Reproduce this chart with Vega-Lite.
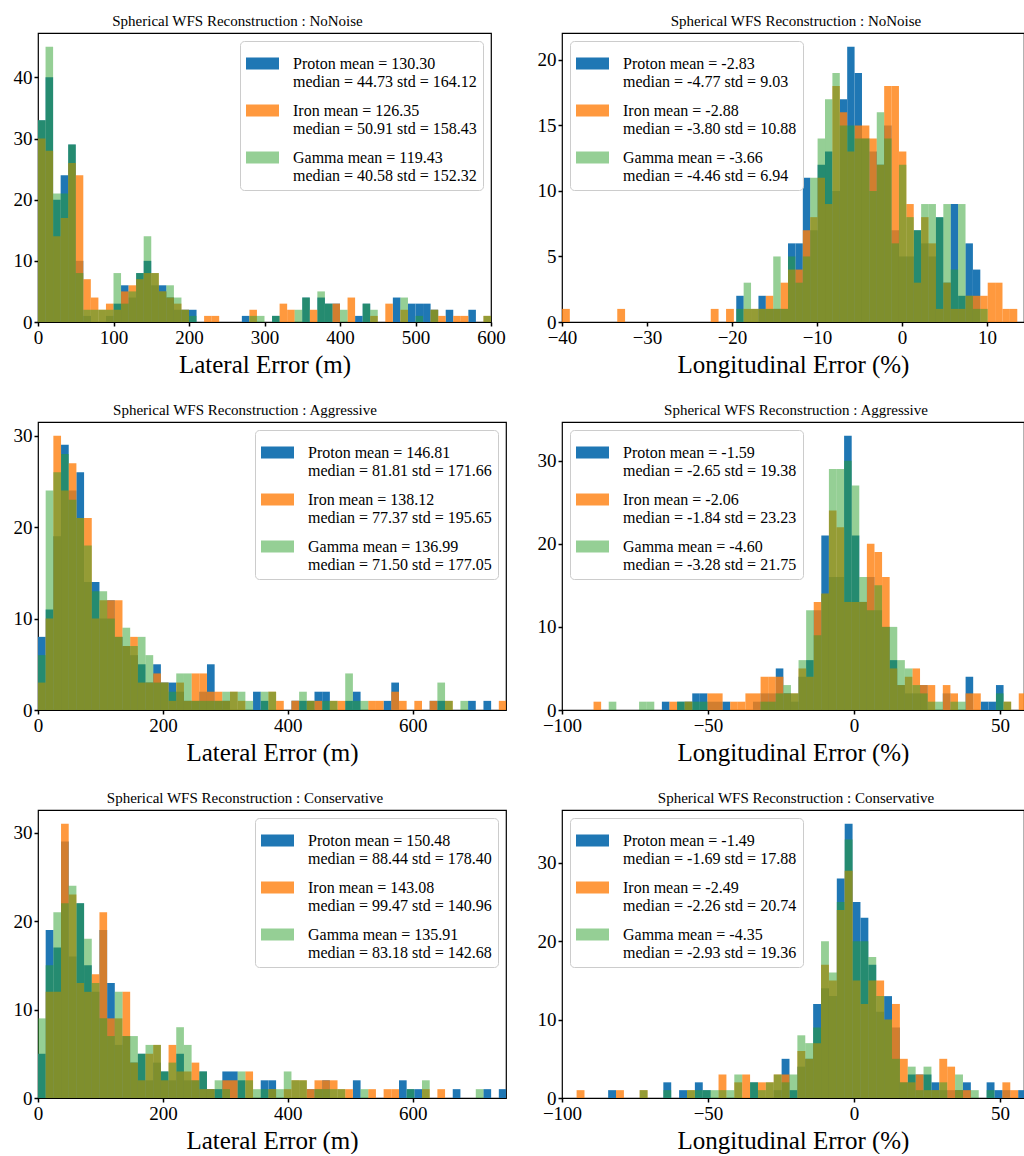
{
"$schema": "https://vega.github.io/schema/vega-lite/v6.json",
"background": "white",
"padding": {"left": 12, "top": 13, "right": 0, "bottom": 0},
"bounds": "flush",
"columns": 2,
"spacing": {"row": 100, "column": 56},
"resolve": {"legend": {"color": "independent"}, "scale": {"color": "independent"}},
"config": {
 "font": "Liberation Serif",
 "view": {"stroke": "#000", "strokeWidth": 1.2},
 "axis": {"domain": false, "grid": false, "tickColor": "#000", "tickSize": 4, "tickWidth": 1.5, "labelFont": "Liberation Serif", "labelFontSize": 19, "labelColor": "#000", "labelFlush": false, "labelOverlap": false, "labelPadding": 2, "titleFont": "Liberation Serif", "titleFontSize": 25, "titleFontWeight": "normal", "titleColor": "#000", "titlePadding": 5},
 "title": {"font": "Liberation Serif", "fontSize": 15, "fontWeight": "normal", "color": "#000", "offset": 4},
 "text": {"font": "Liberation Serif"},
 "legend": {"labelFont": "Liberation Serif", "labelFontSize": 16, "labelColor": "#000", "labelLimit": 500, "symbolType": "M-1,-0.36H1V0.36H-1Z", "symbolSize": 1089, "symbolStrokeWidth": 0, "labelOffset": 14, "padding": 6, "rowPadding": 4, "fillColor": "rgba(255,255,255,0.8)", "strokeColor": "#cccccc", "cornerRadius": 4, "offset": 8}
},
"datasets": {
"d1": [
{"s":"P","a":0,"b":10,"n":33},{"s":"P","a":10,"b":20,"n":40},{"s":"P","a":20,"b":30,"n":20},{"s":"P","a":30,"b":40,"n":24},{"s":"P","a":40,"b":50,"n":29},{"s":"P","a":50,"b":60,"n":10},{"s":"P","a":60,"b":70,"n":1},{"s":"P","a":90,"b":100,"n":1},{"s":"P","a":100,"b":110,"n":3},{"s":"P","a":110,"b":120,"n":6},{"s":"P","a":120,"b":130,"n":4},{"s":"P","a":130,"b":140,"n":8},{"s":"P","a":140,"b":150,"n":10},{"s":"P","a":150,"b":160,"n":6},{"s":"P","a":160,"b":170,"n":6},{"s":"P","a":170,"b":180,"n":4},{"s":"P","a":180,"b":190,"n":2},{"s":"P","a":190,"b":200,"n":2},{"s":"P","a":200,"b":210,"n":2},{"s":"P","a":270,"b":280,"n":1},{"s":"P","a":310,"b":320,"n":1},{"s":"P","a":350,"b":360,"n":4},{"s":"P","a":370,"b":380,"n":4},{"s":"P","a":380,"b":390,"n":3},{"s":"P","a":390,"b":400,"n":3},{"s":"P","a":420,"b":430,"n":1},{"s":"P","a":430,"b":440,"n":3},{"s":"P","a":470,"b":480,"n":4},{"s":"P","a":490,"b":500,"n":3},{"s":"P","a":500,"b":510,"n":3},{"s":"P","a":510,"b":520,"n":3},{"s":"P","a":520,"b":530,"n":2},{"s":"P","a":540,"b":550,"n":2},{"s":"P","a":570,"b":580,"n":2},
{"s":"I","a":0,"b":10,"n":30},{"s":"I","a":10,"b":20,"n":28},{"s":"I","a":20,"b":30,"n":14},{"s":"I","a":30,"b":40,"n":17},{"s":"I","a":40,"b":50,"n":26},{"s":"I","a":50,"b":60,"n":24},{"s":"I","a":60,"b":70,"n":7},{"s":"I","a":70,"b":80,"n":4},{"s":"I","a":80,"b":90,"n":2},{"s":"I","a":90,"b":100,"n":3},{"s":"I","a":100,"b":110,"n":2},{"s":"I","a":110,"b":120,"n":5},{"s":"I","a":120,"b":130,"n":6},{"s":"I","a":130,"b":140,"n":7},{"s":"I","a":140,"b":150,"n":8},{"s":"I","a":150,"b":160,"n":8},{"s":"I","a":160,"b":170,"n":5},{"s":"I","a":170,"b":180,"n":4},{"s":"I","a":180,"b":190,"n":3},{"s":"I","a":190,"b":200,"n":2},{"s":"I","a":220,"b":230,"n":1},{"s":"I","a":230,"b":240,"n":1},{"s":"I","a":280,"b":290,"n":2},{"s":"I","a":320,"b":330,"n":3},{"s":"I","a":330,"b":340,"n":2},{"s":"I","a":360,"b":370,"n":2},{"s":"I","a":390,"b":400,"n":3},{"s":"I","a":410,"b":420,"n":4},{"s":"I","a":440,"b":450,"n":1},{"s":"I","a":460,"b":470,"n":3},{"s":"I","a":480,"b":490,"n":2},{"s":"I","a":520,"b":530,"n":2},{"s":"I","a":530,"b":540,"n":1},{"s":"I","a":550,"b":560,"n":1},{"s":"I","a":560,"b":570,"n":1},{"s":"I","a":590,"b":600,"n":1},
{"s":"G","a":0,"b":10,"n":33},{"s":"G","a":10,"b":20,"n":45},{"s":"G","a":20,"b":30,"n":21},{"s":"G","a":30,"b":40,"n":21},{"s":"G","a":40,"b":50,"n":29},{"s":"G","a":50,"b":60,"n":8},{"s":"G","a":60,"b":70,"n":2},{"s":"G","a":70,"b":80,"n":2},{"s":"G","a":80,"b":90,"n":2},{"s":"G","a":90,"b":100,"n":2},{"s":"G","a":100,"b":110,"n":8},{"s":"G","a":110,"b":120,"n":3},{"s":"G","a":120,"b":130,"n":5},{"s":"G","a":130,"b":140,"n":8},{"s":"G","a":140,"b":150,"n":14},{"s":"G","a":150,"b":160,"n":8},{"s":"G","a":160,"b":170,"n":5},{"s":"G","a":170,"b":180,"n":6},{"s":"G","a":180,"b":190,"n":4},{"s":"G","a":190,"b":200,"n":2},{"s":"G","a":200,"b":210,"n":1},{"s":"G","a":280,"b":290,"n":1},{"s":"G","a":290,"b":300,"n":1},{"s":"G","a":310,"b":320,"n":1},{"s":"G","a":340,"b":350,"n":2},{"s":"G","a":350,"b":360,"n":4},{"s":"G","a":370,"b":380,"n":5},{"s":"G","a":380,"b":390,"n":3},{"s":"G","a":400,"b":410,"n":2},{"s":"G","a":430,"b":440,"n":3},{"s":"G","a":440,"b":450,"n":2},{"s":"G","a":480,"b":490,"n":4},{"s":"G","a":500,"b":510,"n":1},{"s":"G","a":520,"b":530,"n":2},{"s":"G","a":590,"b":600,"n":1}
],
"d2": [
{"s":"P","a":-19.5,"b":-18.63,"n":2},{"s":"P","a":-16.89,"b":-16.02,"n":2},{"s":"P","a":-16.02,"b":-15.15,"n":1},{"s":"P","a":-15.15,"b":-14.28,"n":1},{"s":"P","a":-14.28,"b":-13.41,"n":1},{"s":"P","a":-13.41,"b":-12.54,"n":6},{"s":"P","a":-12.54,"b":-11.67,"n":6},{"s":"P","a":-11.67,"b":-10.8,"n":11},{"s":"P","a":-10.8,"b":-9.93,"n":7},{"s":"P","a":-9.93,"b":-9.06,"n":12},{"s":"P","a":-9.06,"b":-8.19,"n":13},{"s":"P","a":-8.19,"b":-7.32,"n":10},{"s":"P","a":-7.32,"b":-6.45,"n":17},{"s":"P","a":-6.45,"b":-5.58,"n":21},{"s":"P","a":-5.58,"b":-4.71,"n":19},{"s":"P","a":-4.71,"b":-3.84,"n":14},{"s":"P","a":-3.84,"b":-2.97,"n":13},{"s":"P","a":-2.97,"b":-2.1,"n":12},{"s":"P","a":-2.1,"b":-1.23,"n":15},{"s":"P","a":-1.23,"b":-0.36,"n":7},{"s":"P","a":-0.36,"b":0.51,"n":5},{"s":"P","a":0.51,"b":1.38,"n":5},{"s":"P","a":1.38,"b":2.25,"n":7},{"s":"P","a":2.25,"b":3.12,"n":6},{"s":"P","a":3.12,"b":3.99,"n":5},{"s":"P","a":3.99,"b":4.86,"n":8},{"s":"P","a":4.86,"b":5.73,"n":3},{"s":"P","a":5.73,"b":6.6,"n":9},{"s":"P","a":6.6,"b":7.47,"n":2},{"s":"P","a":7.47,"b":8.34,"n":6},{"s":"P","a":8.34,"b":9.21,"n":4},
{"s":"I","a":-40,"b":-39.08,"n":1},{"s":"I","a":-33.5,"b":-32.58,"n":1},{"s":"I","a":-22.5,"b":-21.58,"n":1},{"s":"I","a":-20.7,"b":-19.78,"n":1},{"s":"I","a":-18.63,"b":-17.76,"n":1},{"s":"I","a":-17.76,"b":-16.89,"n":1},{"s":"I","a":-16.89,"b":-16.02,"n":1},{"s":"I","a":-16.02,"b":-15.15,"n":2},{"s":"I","a":-15.15,"b":-14.28,"n":1},{"s":"I","a":-14.28,"b":-13.41,"n":3},{"s":"I","a":-13.41,"b":-12.54,"n":4},{"s":"I","a":-12.54,"b":-11.67,"n":4},{"s":"I","a":-11.67,"b":-10.8,"n":7},{"s":"I","a":-10.8,"b":-9.93,"n":8},{"s":"I","a":-9.93,"b":-9.06,"n":11},{"s":"I","a":-9.06,"b":-8.19,"n":9},{"s":"I","a":-8.19,"b":-7.32,"n":18},{"s":"I","a":-7.32,"b":-6.45,"n":16},{"s":"I","a":-6.45,"b":-5.58,"n":13},{"s":"I","a":-5.58,"b":-4.71,"n":15},{"s":"I","a":-4.71,"b":-3.84,"n":15},{"s":"I","a":-3.84,"b":-2.97,"n":14},{"s":"I","a":-2.97,"b":-2.1,"n":12},{"s":"I","a":-2.1,"b":-1.23,"n":18},{"s":"I","a":-1.23,"b":-0.36,"n":18},{"s":"I","a":-0.36,"b":0.51,"n":13},{"s":"I","a":0.51,"b":1.38,"n":9},{"s":"I","a":1.38,"b":2.25,"n":3},{"s":"I","a":2.25,"b":3.12,"n":8},{"s":"I","a":3.12,"b":3.99,"n":6},{"s":"I","a":3.99,"b":4.86,"n":1},{"s":"I","a":4.86,"b":5.73,"n":3},{"s":"I","a":5.73,"b":6.6,"n":1},{"s":"I","a":6.6,"b":7.47,"n":1},{"s":"I","a":7.47,"b":8.34,"n":2},{"s":"I","a":8.34,"b":9.21,"n":2},{"s":"I","a":9.21,"b":10.08,"n":2},{"s":"I","a":10.08,"b":10.95,"n":3},{"s":"I","a":10.95,"b":11.82,"n":3},{"s":"I","a":11.82,"b":12.69,"n":1},{"s":"I","a":12.69,"b":13.56,"n":1},
{"s":"G","a":-19.5,"b":-18.63,"n":1},{"s":"G","a":-18.63,"b":-17.76,"n":3},{"s":"G","a":-17.76,"b":-16.89,"n":1},{"s":"G","a":-16.89,"b":-16.02,"n":1},{"s":"G","a":-16.02,"b":-15.15,"n":1},{"s":"G","a":-15.15,"b":-14.28,"n":5},{"s":"G","a":-14.28,"b":-13.41,"n":1},{"s":"G","a":-13.41,"b":-12.54,"n":5},{"s":"G","a":-12.54,"b":-11.67,"n":3},{"s":"G","a":-11.67,"b":-10.8,"n":5},{"s":"G","a":-10.8,"b":-9.93,"n":11},{"s":"G","a":-9.93,"b":-9.06,"n":14},{"s":"G","a":-9.06,"b":-8.19,"n":17},{"s":"G","a":-8.19,"b":-7.32,"n":19},{"s":"G","a":-7.32,"b":-6.45,"n":15},{"s":"G","a":-6.45,"b":-5.58,"n":15},{"s":"G","a":-5.58,"b":-4.71,"n":14},{"s":"G","a":-4.71,"b":-3.84,"n":14},{"s":"G","a":-3.84,"b":-2.97,"n":10},{"s":"G","a":-2.97,"b":-2.1,"n":16},{"s":"G","a":-2.1,"b":-1.23,"n":14},{"s":"G","a":-1.23,"b":-0.36,"n":6},{"s":"G","a":-0.36,"b":0.51,"n":12},{"s":"G","a":0.51,"b":1.38,"n":8},{"s":"G","a":1.38,"b":2.25,"n":7},{"s":"G","a":2.25,"b":3.12,"n":9},{"s":"G","a":3.12,"b":3.99,"n":9},{"s":"G","a":3.99,"b":4.86,"n":8},{"s":"G","a":4.86,"b":5.73,"n":9},{"s":"G","a":5.73,"b":6.6,"n":4},{"s":"G","a":6.6,"b":7.47,"n":9},{"s":"G","a":7.47,"b":8.34,"n":2},{"s":"G","a":8.34,"b":9.21,"n":1},{"s":"G","a":9.21,"b":10.08,"n":1}
],
"d3": [
{"s":"P","a":0,"b":12.3,"n":8},{"s":"P","a":12.3,"b":24.6,"n":11},{"s":"P","a":24.6,"b":36.9,"n":19},{"s":"P","a":36.9,"b":49.2,"n":29},{"s":"P","a":49.2,"b":61.5,"n":24},{"s":"P","a":61.5,"b":73.8,"n":26},{"s":"P","a":73.8,"b":86.1,"n":14},{"s":"P","a":86.1,"b":98.4,"n":14},{"s":"P","a":98.4,"b":110.7,"n":10},{"s":"P","a":110.7,"b":123,"n":12},{"s":"P","a":123,"b":135.3,"n":8},{"s":"P","a":135.3,"b":147.6,"n":7},{"s":"P","a":147.6,"b":159.9,"n":6},{"s":"P","a":159.9,"b":172.2,"n":5},{"s":"P","a":172.2,"b":184.5,"n":3},{"s":"P","a":184.5,"b":196.8,"n":5},{"s":"P","a":196.8,"b":209.1,"n":3},{"s":"P","a":209.1,"b":221.4,"n":3},{"s":"P","a":221.4,"b":233.7,"n":2},{"s":"P","a":233.7,"b":246,"n":1},{"s":"P","a":246,"b":258.3,"n":1},{"s":"P","a":258.3,"b":270.6,"n":2},{"s":"P","a":270.6,"b":282.9,"n":5},{"s":"P","a":282.9,"b":295.2,"n":1},{"s":"P","a":295.2,"b":307.5,"n":1},{"s":"P","a":344.4,"b":356.7,"n":2},{"s":"P","a":356.7,"b":369,"n":1},{"s":"P","a":405.9,"b":418.2,"n":1},{"s":"P","a":418.2,"b":430.5,"n":1},{"s":"P","a":430.5,"b":442.8,"n":1},{"s":"P","a":442.8,"b":455.1,"n":2},{"s":"P","a":455.1,"b":467.4,"n":2},{"s":"P","a":492,"b":504.3,"n":1},{"s":"P","a":504.3,"b":516.6,"n":2},{"s":"P","a":553.5,"b":565.8,"n":1},{"s":"P","a":565.8,"b":578.1,"n":3},{"s":"P","a":627.3,"b":639.6,"n":1},{"s":"P","a":639.6,"b":651.9,"n":1},{"s":"P","a":688.8,"b":701.1,"n":1},{"s":"P","a":713.4,"b":725.7,"n":1},
{"s":"I","a":0,"b":12.3,"n":3},{"s":"I","a":12.3,"b":24.6,"n":10},{"s":"I","a":24.6,"b":36.9,"n":30},{"s":"I","a":36.9,"b":49.2,"n":24},{"s":"I","a":49.2,"b":61.5,"n":27},{"s":"I","a":61.5,"b":73.8,"n":21},{"s":"I","a":73.8,"b":86.1,"n":21},{"s":"I","a":86.1,"b":98.4,"n":10},{"s":"I","a":98.4,"b":110.7,"n":12},{"s":"I","a":110.7,"b":123,"n":12},{"s":"I","a":123,"b":135.3,"n":12},{"s":"I","a":135.3,"b":147.6,"n":7},{"s":"I","a":147.6,"b":159.9,"n":8},{"s":"I","a":159.9,"b":172.2,"n":3},{"s":"I","a":172.2,"b":184.5,"n":3},{"s":"I","a":184.5,"b":196.8,"n":4},{"s":"I","a":196.8,"b":209.1,"n":3},{"s":"I","a":209.1,"b":221.4,"n":1},{"s":"I","a":221.4,"b":233.7,"n":3},{"s":"I","a":233.7,"b":246,"n":1},{"s":"I","a":246,"b":258.3,"n":4},{"s":"I","a":258.3,"b":270.6,"n":4},{"s":"I","a":270.6,"b":282.9,"n":2},{"s":"I","a":282.9,"b":295.2,"n":2},{"s":"I","a":295.2,"b":307.5,"n":1},{"s":"I","a":307.5,"b":319.8,"n":2},{"s":"I","a":319.8,"b":332.1,"n":1},{"s":"I","a":369,"b":381.3,"n":2},{"s":"I","a":381.3,"b":393.6,"n":1},{"s":"I","a":405.9,"b":418.2,"n":1},{"s":"I","a":430.5,"b":442.8,"n":1},{"s":"I","a":442.8,"b":455.1,"n":1},{"s":"I","a":467.4,"b":479.7,"n":1},{"s":"I","a":479.7,"b":492,"n":1},{"s":"I","a":528.9,"b":541.2,"n":1},{"s":"I","a":541.2,"b":553.5,"n":1},{"s":"I","a":565.8,"b":578.1,"n":2},{"s":"I","a":578.1,"b":590.4,"n":1},{"s":"I","a":602.7,"b":615,"n":1},{"s":"I","a":627.3,"b":639.6,"n":1},{"s":"I","a":651.9,"b":664.2,"n":1},{"s":"I","a":738,"b":750.3,"n":1},
{"s":"G","a":0,"b":12.3,"n":6},{"s":"G","a":12.3,"b":24.6,"n":24},{"s":"G","a":24.6,"b":36.9,"n":26},{"s":"G","a":36.9,"b":49.2,"n":28},{"s":"G","a":49.2,"b":61.5,"n":23},{"s":"G","a":61.5,"b":73.8,"n":21},{"s":"G","a":73.8,"b":86.1,"n":18},{"s":"G","a":86.1,"b":98.4,"n":13},{"s":"G","a":98.4,"b":110.7,"n":13},{"s":"G","a":110.7,"b":123,"n":10},{"s":"G","a":123,"b":135.3,"n":8},{"s":"G","a":135.3,"b":147.6,"n":9},{"s":"G","a":147.6,"b":159.9,"n":7},{"s":"G","a":159.9,"b":172.2,"n":8},{"s":"G","a":172.2,"b":184.5,"n":6},{"s":"G","a":184.5,"b":196.8,"n":3},{"s":"G","a":196.8,"b":209.1,"n":3},{"s":"G","a":209.1,"b":221.4,"n":2},{"s":"G","a":221.4,"b":233.7,"n":4},{"s":"G","a":233.7,"b":246,"n":4},{"s":"G","a":246,"b":258.3,"n":1},{"s":"G","a":258.3,"b":270.6,"n":1},{"s":"G","a":270.6,"b":282.9,"n":1},{"s":"G","a":282.9,"b":295.2,"n":1},{"s":"G","a":295.2,"b":307.5,"n":2},{"s":"G","a":307.5,"b":319.8,"n":2},{"s":"G","a":319.8,"b":332.1,"n":2},{"s":"G","a":332.1,"b":344.4,"n":1},{"s":"G","a":356.7,"b":369,"n":2},{"s":"G","a":369,"b":381.3,"n":2},{"s":"G","a":418.2,"b":430.5,"n":2},{"s":"G","a":430.5,"b":442.8,"n":1},{"s":"G","a":455.1,"b":467.4,"n":1},{"s":"G","a":467.4,"b":479.7,"n":1},{"s":"G","a":492,"b":504.3,"n":4},{"s":"G","a":504.3,"b":516.6,"n":1},{"s":"G","a":516.6,"b":528.9,"n":1},{"s":"G","a":639.6,"b":651.9,"n":3},{"s":"G","a":651.9,"b":664.2,"n":1},{"s":"G","a":676.5,"b":688.8,"n":1}
],
"d4": [
{"s":"P","a":-65.8,"b":-63.2,"n":1},{"s":"P","a":-60.6,"b":-58,"n":1},{"s":"P","a":-58,"b":-55.4,"n":1},{"s":"P","a":-55.4,"b":-52.8,"n":2},{"s":"P","a":-52.8,"b":-50.2,"n":2},{"s":"P","a":-50.2,"b":-47.6,"n":1},{"s":"P","a":-47.6,"b":-45,"n":1},{"s":"P","a":-45,"b":-42.4,"n":1},{"s":"P","a":-34.6,"b":-32,"n":1},{"s":"P","a":-32,"b":-29.4,"n":2},{"s":"P","a":-29.4,"b":-26.8,"n":2},{"s":"P","a":-26.8,"b":-24.2,"n":5},{"s":"P","a":-24.2,"b":-21.6,"n":2},{"s":"P","a":-21.6,"b":-19,"n":1},{"s":"P","a":-19,"b":-16.4,"n":4},{"s":"P","a":-16.4,"b":-13.8,"n":6},{"s":"P","a":-13.8,"b":-11.2,"n":12},{"s":"P","a":-11.2,"b":-8.6,"n":21},{"s":"P","a":-8.6,"b":-6,"n":16},{"s":"P","a":-6,"b":-3.4,"n":16},{"s":"P","a":-3.4,"b":-0.8,"n":33},{"s":"P","a":-0.8,"b":1.8,"n":21},{"s":"P","a":1.8,"b":4.4,"n":13},{"s":"P","a":4.4,"b":7,"n":16},{"s":"P","a":7,"b":9.6,"n":12},{"s":"P","a":9.6,"b":12.2,"n":10},{"s":"P","a":12.2,"b":14.8,"n":6},{"s":"P","a":14.8,"b":17.4,"n":3},{"s":"P","a":17.4,"b":20,"n":2},{"s":"P","a":20,"b":22.6,"n":2},{"s":"P","a":22.6,"b":25.2,"n":3},{"s":"P","a":30.4,"b":33,"n":2},{"s":"P","a":38.2,"b":40.8,"n":4},{"s":"P","a":43.4,"b":46,"n":1},{"s":"P","a":46,"b":48.6,"n":1},{"s":"P","a":48.6,"b":51.2,"n":3},
{"s":"I","a":-89.2,"b":-86.6,"n":1},{"s":"I","a":-63.2,"b":-60.6,"n":1},{"s":"I","a":-58,"b":-55.4,"n":1},{"s":"I","a":-50.2,"b":-47.6,"n":2},{"s":"I","a":-47.6,"b":-45,"n":2},{"s":"I","a":-42.4,"b":-39.8,"n":1},{"s":"I","a":-39.8,"b":-37.2,"n":1},{"s":"I","a":-37.2,"b":-34.6,"n":2},{"s":"I","a":-34.6,"b":-32,"n":2},{"s":"I","a":-32,"b":-29.4,"n":4},{"s":"I","a":-29.4,"b":-26.8,"n":4},{"s":"I","a":-26.8,"b":-24.2,"n":4},{"s":"I","a":-24.2,"b":-21.6,"n":2},{"s":"I","a":-21.6,"b":-19,"n":2},{"s":"I","a":-19,"b":-16.4,"n":5},{"s":"I","a":-16.4,"b":-13.8,"n":4},{"s":"I","a":-13.8,"b":-11.2,"n":13},{"s":"I","a":-11.2,"b":-8.6,"n":14},{"s":"I","a":-8.6,"b":-6,"n":24},{"s":"I","a":-6,"b":-3.4,"n":22},{"s":"I","a":-3.4,"b":-0.8,"n":13},{"s":"I","a":-0.8,"b":1.8,"n":13},{"s":"I","a":1.8,"b":4.4,"n":13},{"s":"I","a":4.4,"b":7,"n":20},{"s":"I","a":7,"b":9.6,"n":19},{"s":"I","a":9.6,"b":12.2,"n":16},{"s":"I","a":12.2,"b":14.8,"n":5},{"s":"I","a":14.8,"b":17.4,"n":3},{"s":"I","a":17.4,"b":20,"n":4},{"s":"I","a":20,"b":22.6,"n":5},{"s":"I","a":22.6,"b":25.2,"n":3},{"s":"I","a":25.2,"b":27.8,"n":3},{"s":"I","a":30.4,"b":33,"n":3},{"s":"I","a":33,"b":35.6,"n":2},{"s":"I","a":38.2,"b":40.8,"n":2},{"s":"I","a":40.8,"b":43.4,"n":2},{"s":"I","a":51.2,"b":53.8,"n":1},{"s":"I","a":56.4,"b":59,"n":2},
{"s":"G","a":-84,"b":-81.4,"n":1},{"s":"G","a":-73.6,"b":-71,"n":1},{"s":"G","a":-71,"b":-68.4,"n":1},{"s":"G","a":-60.6,"b":-58,"n":1},{"s":"G","a":-58,"b":-55.4,"n":1},{"s":"G","a":-55.4,"b":-52.8,"n":1},{"s":"G","a":-52.8,"b":-50.2,"n":1},{"s":"G","a":-32,"b":-29.4,"n":1},{"s":"G","a":-29.4,"b":-26.8,"n":1},{"s":"G","a":-26.8,"b":-24.2,"n":2},{"s":"G","a":-24.2,"b":-21.6,"n":3},{"s":"G","a":-21.6,"b":-19,"n":2},{"s":"G","a":-19,"b":-16.4,"n":6},{"s":"G","a":-16.4,"b":-13.8,"n":12},{"s":"G","a":-13.8,"b":-11.2,"n":9},{"s":"G","a":-11.2,"b":-8.6,"n":14},{"s":"G","a":-8.6,"b":-6,"n":29},{"s":"G","a":-6,"b":-3.4,"n":29},{"s":"G","a":-3.4,"b":-0.8,"n":30},{"s":"G","a":-0.8,"b":1.8,"n":27},{"s":"G","a":1.8,"b":4.4,"n":16},{"s":"G","a":4.4,"b":7,"n":12},{"s":"G","a":7,"b":9.6,"n":15},{"s":"G","a":9.6,"b":12.2,"n":10},{"s":"G","a":12.2,"b":14.8,"n":10},{"s":"G","a":14.8,"b":17.4,"n":6},{"s":"G","a":17.4,"b":20,"n":5},{"s":"G","a":20,"b":22.6,"n":3},{"s":"G","a":22.6,"b":25.2,"n":2},{"s":"G","a":25.2,"b":27.8,"n":1},{"s":"G","a":27.8,"b":30.4,"n":1},{"s":"G","a":33,"b":35.6,"n":1},{"s":"G","a":35.6,"b":38.2,"n":1},{"s":"G","a":48.6,"b":51.2,"n":2},{"s":"G","a":51.2,"b":53.8,"n":1}
],
"d5": [
{"s":"P","a":0,"b":12.3,"n":5},{"s":"P","a":12.3,"b":24.6,"n":19},{"s":"P","a":24.6,"b":36.9,"n":17},{"s":"P","a":36.9,"b":49.2,"n":29},{"s":"P","a":49.2,"b":61.5,"n":16},{"s":"P","a":61.5,"b":73.8,"n":22},{"s":"P","a":73.8,"b":86.1,"n":15},{"s":"P","a":86.1,"b":98.4,"n":12},{"s":"P","a":98.4,"b":110.7,"n":19},{"s":"P","a":110.7,"b":123,"n":13},{"s":"P","a":123,"b":135.3,"n":6},{"s":"P","a":135.3,"b":147.6,"n":7},{"s":"P","a":147.6,"b":159.9,"n":4},{"s":"P","a":159.9,"b":172.2,"n":5},{"s":"P","a":172.2,"b":184.5,"n":2},{"s":"P","a":184.5,"b":196.8,"n":4},{"s":"P","a":196.8,"b":209.1,"n":3},{"s":"P","a":209.1,"b":221.4,"n":2},{"s":"P","a":221.4,"b":233.7,"n":5},{"s":"P","a":233.7,"b":246,"n":2},{"s":"P","a":246,"b":258.3,"n":2},{"s":"P","a":258.3,"b":270.6,"n":3},{"s":"P","a":270.6,"b":282.9,"n":1},{"s":"P","a":282.9,"b":295.2,"n":1},{"s":"P","a":295.2,"b":307.5,"n":3},{"s":"P","a":307.5,"b":319.8,"n":3},{"s":"P","a":319.8,"b":332.1,"n":2},{"s":"P","a":356.7,"b":369,"n":2},{"s":"P","a":369,"b":381.3,"n":2},{"s":"P","a":430.5,"b":442.8,"n":1},{"s":"P","a":442.8,"b":455.1,"n":1},{"s":"P","a":455.1,"b":467.4,"n":2},{"s":"P","a":504.3,"b":516.6,"n":2},{"s":"P","a":578.1,"b":590.4,"n":2},{"s":"P","a":590.4,"b":602.7,"n":1},{"s":"P","a":602.7,"b":615,"n":1},{"s":"P","a":664.2,"b":676.5,"n":1},{"s":"P","a":713.4,"b":725.7,"n":1},{"s":"P","a":738,"b":750.3,"n":1},
{"s":"I","a":12.3,"b":24.6,"n":12},{"s":"I","a":24.6,"b":36.9,"n":12},{"s":"I","a":36.9,"b":49.2,"n":31},{"s":"I","a":49.2,"b":61.5,"n":23},{"s":"I","a":61.5,"b":73.8,"n":13},{"s":"I","a":73.8,"b":86.1,"n":12},{"s":"I","a":86.1,"b":98.4,"n":14},{"s":"I","a":98.4,"b":110.7,"n":21},{"s":"I","a":110.7,"b":123,"n":9},{"s":"I","a":123,"b":135.3,"n":9},{"s":"I","a":135.3,"b":147.6,"n":12},{"s":"I","a":147.6,"b":159.9,"n":4},{"s":"I","a":159.9,"b":172.2,"n":2},{"s":"I","a":172.2,"b":184.5,"n":5},{"s":"I","a":184.5,"b":196.8,"n":6},{"s":"I","a":196.8,"b":209.1,"n":2},{"s":"I","a":209.1,"b":221.4,"n":6},{"s":"I","a":221.4,"b":233.7,"n":3},{"s":"I","a":233.7,"b":246,"n":3},{"s":"I","a":246,"b":258.3,"n":4},{"s":"I","a":258.3,"b":270.6,"n":1},{"s":"I","a":270.6,"b":282.9,"n":1},{"s":"I","a":295.2,"b":307.5,"n":2},{"s":"I","a":307.5,"b":319.8,"n":2},{"s":"I","a":332.1,"b":344.4,"n":3},{"s":"I","a":369,"b":381.3,"n":1},{"s":"I","a":393.6,"b":405.9,"n":1},{"s":"I","a":405.9,"b":418.2,"n":2},{"s":"I","a":418.2,"b":430.5,"n":2},{"s":"I","a":430.5,"b":442.8,"n":1},{"s":"I","a":442.8,"b":455.1,"n":2},{"s":"I","a":455.1,"b":467.4,"n":2},{"s":"I","a":467.4,"b":479.7,"n":2},{"s":"I","a":479.7,"b":492,"n":1},{"s":"I","a":492,"b":504.3,"n":1},{"s":"I","a":528.9,"b":541.2,"n":1},{"s":"I","a":553.5,"b":565.8,"n":1},{"s":"I","a":565.8,"b":578.1,"n":1},{"s":"I","a":615,"b":627.3,"n":1},{"s":"I","a":639.6,"b":651.9,"n":1},
{"s":"G","a":0,"b":12.3,"n":9},{"s":"G","a":12.3,"b":24.6,"n":15},{"s":"G","a":24.6,"b":36.9,"n":21},{"s":"G","a":36.9,"b":49.2,"n":22},{"s":"G","a":49.2,"b":61.5,"n":24},{"s":"G","a":61.5,"b":73.8,"n":22},{"s":"G","a":73.8,"b":86.1,"n":18},{"s":"G","a":86.1,"b":98.4,"n":13},{"s":"G","a":98.4,"b":110.7,"n":9},{"s":"G","a":110.7,"b":123,"n":7},{"s":"G","a":123,"b":135.3,"n":12},{"s":"G","a":135.3,"b":147.6,"n":7},{"s":"G","a":147.6,"b":159.9,"n":7},{"s":"G","a":159.9,"b":172.2,"n":5},{"s":"G","a":172.2,"b":184.5,"n":6},{"s":"G","a":184.5,"b":196.8,"n":6},{"s":"G","a":196.8,"b":209.1,"n":3},{"s":"G","a":209.1,"b":221.4,"n":4},{"s":"G","a":221.4,"b":233.7,"n":8},{"s":"G","a":233.7,"b":246,"n":6},{"s":"G","a":246,"b":258.3,"n":2},{"s":"G","a":258.3,"b":270.6,"n":3},{"s":"G","a":270.6,"b":282.9,"n":1},{"s":"G","a":282.9,"b":295.2,"n":2},{"s":"G","a":295.2,"b":307.5,"n":1},{"s":"G","a":319.8,"b":332.1,"n":3},{"s":"G","a":332.1,"b":344.4,"n":2},{"s":"G","a":344.4,"b":356.7,"n":1},{"s":"G","a":356.7,"b":369,"n":1},{"s":"G","a":369,"b":381.3,"n":1},{"s":"G","a":381.3,"b":393.6,"n":1},{"s":"G","a":393.6,"b":405.9,"n":3},{"s":"G","a":405.9,"b":418.2,"n":2},{"s":"G","a":418.2,"b":430.5,"n":2},{"s":"G","a":442.8,"b":455.1,"n":1},{"s":"G","a":455.1,"b":467.4,"n":1},{"s":"G","a":467.4,"b":479.7,"n":1},{"s":"G","a":479.7,"b":492,"n":1},{"s":"G","a":516.6,"b":528.9,"n":1},{"s":"G","a":590.4,"b":602.7,"n":1},{"s":"G","a":615,"b":627.3,"n":2},{"s":"G","a":701.1,"b":713.4,"n":1}
],
"d6": [
{"s":"P","a":-84.2,"b":-81.5,"n":1},{"s":"P","a":-65.3,"b":-62.6,"n":2},{"s":"P","a":-59.9,"b":-57.2,"n":1},{"s":"P","a":-54.5,"b":-51.8,"n":2},{"s":"P","a":-51.8,"b":-49.1,"n":1},{"s":"P","a":-35.6,"b":-32.9,"n":2},{"s":"P","a":-27.5,"b":-24.8,"n":1},{"s":"P","a":-24.8,"b":-22.1,"n":5},{"s":"P","a":-22.1,"b":-19.4,"n":1},{"s":"P","a":-19.4,"b":-16.7,"n":4},{"s":"P","a":-16.7,"b":-14,"n":5},{"s":"P","a":-14,"b":-11.3,"n":12},{"s":"P","a":-11.3,"b":-8.6,"n":14},{"s":"P","a":-8.6,"b":-5.9,"n":13},{"s":"P","a":-5.9,"b":-3.2,"n":28},{"s":"P","a":-3.2,"b":-0.5,"n":35},{"s":"P","a":-0.5,"b":2.2,"n":25},{"s":"P","a":2.2,"b":4.9,"n":23},{"s":"P","a":4.9,"b":7.6,"n":17},{"s":"P","a":7.6,"b":10.3,"n":11},{"s":"P","a":10.3,"b":13,"n":13},{"s":"P","a":13,"b":15.7,"n":9},{"s":"P","a":15.7,"b":18.4,"n":2},{"s":"P","a":18.4,"b":21.1,"n":3},{"s":"P","a":21.1,"b":23.8,"n":3},{"s":"P","a":23.8,"b":26.5,"n":3},{"s":"P","a":26.5,"b":29.2,"n":2},{"s":"P","a":29.2,"b":31.9,"n":1},{"s":"P","a":31.9,"b":34.6,"n":1},{"s":"P","a":34.6,"b":37.3,"n":1},{"s":"P","a":37.3,"b":40,"n":2},{"s":"P","a":45.4,"b":48.1,"n":2},{"s":"P","a":48.1,"b":50.8,"n":1},{"s":"P","a":50.8,"b":53.5,"n":1},{"s":"P","a":56.2,"b":58.9,"n":1},
{"s":"I","a":-95,"b":-92.3,"n":1},{"s":"I","a":-81.5,"b":-78.8,"n":1},{"s":"I","a":-73.4,"b":-70.7,"n":1},{"s":"I","a":-57.2,"b":-54.5,"n":1},{"s":"I","a":-46.4,"b":-43.7,"n":3},{"s":"I","a":-41,"b":-38.3,"n":2},{"s":"I","a":-38.3,"b":-35.6,"n":3},{"s":"I","a":-32.9,"b":-30.2,"n":2},{"s":"I","a":-30.2,"b":-27.5,"n":2},{"s":"I","a":-27.5,"b":-24.8,"n":3},{"s":"I","a":-24.8,"b":-22.1,"n":3},{"s":"I","a":-19.4,"b":-16.7,"n":6},{"s":"I","a":-16.7,"b":-14,"n":5},{"s":"I","a":-14,"b":-11.3,"n":7},{"s":"I","a":-11.3,"b":-8.6,"n":17},{"s":"I","a":-8.6,"b":-5.9,"n":15},{"s":"I","a":-5.9,"b":-3.2,"n":24},{"s":"I","a":-3.2,"b":-0.5,"n":29},{"s":"I","a":-0.5,"b":2.2,"n":15},{"s":"I","a":2.2,"b":4.9,"n":12},{"s":"I","a":4.9,"b":7.6,"n":15},{"s":"I","a":7.6,"b":10.3,"n":15},{"s":"I","a":10.3,"b":13,"n":10},{"s":"I","a":13,"b":15.7,"n":12},{"s":"I","a":15.7,"b":18.4,"n":5},{"s":"I","a":18.4,"b":21.1,"n":2},{"s":"I","a":21.1,"b":23.8,"n":3},{"s":"I","a":23.8,"b":26.5,"n":1},{"s":"I","a":26.5,"b":29.2,"n":1},{"s":"I","a":29.2,"b":31.9,"n":5},{"s":"I","a":31.9,"b":34.6,"n":4},{"s":"I","a":34.6,"b":37.3,"n":1},{"s":"I","a":37.3,"b":40,"n":1},{"s":"I","a":50.8,"b":53.5,"n":2},{"s":"I","a":53.5,"b":56.2,"n":1},
{"s":"G","a":-73.4,"b":-70.7,"n":1},{"s":"G","a":-65.3,"b":-62.6,"n":1},{"s":"G","a":-57.2,"b":-54.5,"n":1},{"s":"G","a":-54.5,"b":-51.8,"n":1},{"s":"G","a":-51.8,"b":-49.1,"n":1},{"s":"G","a":-49.1,"b":-46.4,"n":1},{"s":"G","a":-46.4,"b":-43.7,"n":1},{"s":"G","a":-43.7,"b":-41,"n":1},{"s":"G","a":-41,"b":-38.3,"n":3},{"s":"G","a":-35.6,"b":-32.9,"n":2},{"s":"G","a":-32.9,"b":-30.2,"n":1},{"s":"G","a":-30.2,"b":-27.5,"n":2},{"s":"G","a":-27.5,"b":-24.8,"n":3},{"s":"G","a":-24.8,"b":-22.1,"n":2},{"s":"G","a":-22.1,"b":-19.4,"n":3},{"s":"G","a":-19.4,"b":-16.7,"n":8},{"s":"G","a":-16.7,"b":-14,"n":7},{"s":"G","a":-14,"b":-11.3,"n":9},{"s":"G","a":-11.3,"b":-8.6,"n":20},{"s":"G","a":-8.6,"b":-5.9,"n":16},{"s":"G","a":-5.9,"b":-3.2,"n":25},{"s":"G","a":-3.2,"b":-0.5,"n":33},{"s":"G","a":-0.5,"b":2.2,"n":20},{"s":"G","a":2.2,"b":4.9,"n":20},{"s":"G","a":4.9,"b":7.6,"n":18},{"s":"G","a":7.6,"b":10.3,"n":13},{"s":"G","a":10.3,"b":13,"n":10},{"s":"G","a":13,"b":15.7,"n":5},{"s":"G","a":15.7,"b":18.4,"n":2},{"s":"G","a":18.4,"b":21.1,"n":4},{"s":"G","a":21.1,"b":23.8,"n":1},{"s":"G","a":23.8,"b":26.5,"n":4},{"s":"G","a":26.5,"b":29.2,"n":1},{"s":"G","a":29.2,"b":31.9,"n":2},{"s":"G","a":34.6,"b":37.3,"n":3},{"s":"G","a":40,"b":42.7,"n":1},{"s":"G","a":45.4,"b":48.1,"n":1}
]
},
"concat": [
 {"width": 453, "height": 289, "data": {"name": "d1"},
  "title": {"text": "Spherical WFS Reconstruction : NoNoise", "dx": -27, "font": "Liberation Serif"},
  "mark": {"type": "bar", "clip": true},
  "encoding": {
   "x": {"field": "a", "type": "quantitative", "scale": {"domain": [0, 600], "nice": false, "zero": false}, "axis": {"title": "Lateral Error (m)", "values": [0,100,200,300,400,500,600]}},
   "x2": {"field": "b"},
   "y": {"field": "n", "type": "quantitative", "stack": null, "scale": {"domain": [0, 47.25], "nice": false}, "axis": {"title": null, "values": [0,10,20,30,40]}},
   "y2": {"datum": 0},
   "color": {"field": "s", "type": "nominal", "scale": {"domain": ["P","I","G"], "range": ["#1f77b4","rgba(255,127,14,0.8)","rgba(44,160,44,0.5)"]},
    "legend": {"title": null, "orient": "top-right", "labelFont": "Liberation Serif", "labelFontSize": 16, "symbolType": "M-1,-0.36H1V0.36H-1Z", "labelExpr": "datum.label == 'P' ? ['Proton mean = 130.30', 'median = 44.73 std = 164.12'] : datum.label == 'I' ? ['Iron mean = 126.35', 'median = 50.91 std = 158.43'] : ['Gamma mean = 119.43', 'median = 40.58 std = 152.32']"}}
  }},
 {"width": 462, "height": 289, "data": {"name": "d2"},
  "title": {"text": "Spherical WFS Reconstruction : NoNoise", "dx": 3, "font": "Liberation Serif"},
  "mark": {"type": "bar", "clip": true},
  "encoding": {
   "x": {"field": "a", "type": "quantitative", "scale": {"domain": [-40, 14.35], "nice": false, "zero": false}, "axis": {"title": "Longitudinal Error (%)", "values": [-40,-30,-20,-10,0,10]}},
   "x2": {"field": "b"},
   "y": {"field": "n", "type": "quantitative", "stack": null, "scale": {"domain": [0, 22.05], "nice": false}, "axis": {"title": null, "values": [0,5,10,15,20]}},
   "y2": {"datum": 0},
   "color": {"field": "s", "type": "nominal", "scale": {"domain": ["P","I","G"], "range": ["#1f77b4","rgba(255,127,14,0.8)","rgba(44,160,44,0.5)"]},
    "legend": {"title": null, "orient": "top-left", "labelFont": "Liberation Serif", "labelFontSize": 16, "symbolType": "M-1,-0.36H1V0.36H-1Z", "labelExpr": "datum.label == 'P' ? ['Proton mean = -2.83', 'median = -4.77 std = 9.03'] : datum.label == 'I' ? ['Iron mean = -2.88', 'median = -3.80 std = 10.88'] : ['Gamma mean = -3.66', 'median = -4.46 std = 6.94']"}}
  }},
 {"width": 468, "height": 288, "data": {"name": "d3"},
  "title": {"text": "Spherical WFS Reconstruction : Aggressive", "dx": -27, "font": "Liberation Serif"},
  "mark": {"type": "bar", "clip": true},
  "encoding": {
   "x": {"field": "a", "type": "quantitative", "scale": {"domain": [0, 749.5], "nice": false, "zero": false}, "axis": {"title": "Lateral Error (m)", "values": [0,200,400,600]}},
   "x2": {"field": "b"},
   "y": {"field": "n", "type": "quantitative", "stack": null, "scale": {"domain": [0, 31.5], "nice": false}, "axis": {"title": null, "values": [0,10,20,30]}},
   "y2": {"datum": 0},
   "color": {"field": "s", "type": "nominal", "scale": {"domain": ["P","I","G"], "range": ["#1f77b4","rgba(255,127,14,0.8)","rgba(44,160,44,0.5)"]},
    "legend": {"title": null, "orient": "top-right", "labelFont": "Liberation Serif", "labelFontSize": 16, "symbolType": "M-1,-0.36H1V0.36H-1Z", "labelExpr": "datum.label == 'P' ? ['Proton mean = 146.81', 'median = 81.81 std = 171.66'] : datum.label == 'I' ? ['Iron mean = 138.12', 'median = 77.37 std = 195.65'] : ['Gamma mean = 136.99', 'median = 71.50 std = 177.05']"}}
  }},
 {"width": 462, "height": 288, "data": {"name": "d4"},
  "title": {"text": "Spherical WFS Reconstruction : Aggressive", "dx": 3, "font": "Liberation Serif"},
  "mark": {"type": "bar", "clip": true},
  "encoding": {
   "x": {"field": "a", "type": "quantitative", "scale": {"domain": [-100, 58.2], "nice": false, "zero": false}, "axis": {"title": "Longitudinal Error (%)", "values": [-100,-50,0,50]}},
   "x2": {"field": "b"},
   "y": {"field": "n", "type": "quantitative", "stack": null, "scale": {"domain": [0, 34.65], "nice": false}, "axis": {"title": null, "values": [0,10,20,30]}},
   "y2": {"datum": 0},
   "color": {"field": "s", "type": "nominal", "scale": {"domain": ["P","I","G"], "range": ["#1f77b4","rgba(255,127,14,0.8)","rgba(44,160,44,0.5)"]},
    "legend": {"title": null, "orient": "top-left", "labelFont": "Liberation Serif", "labelFontSize": 16, "symbolType": "M-1,-0.36H1V0.36H-1Z", "labelExpr": "datum.label == 'P' ? ['Proton mean = -1.59', 'median = -2.65 std = 19.38'] : datum.label == 'I' ? ['Iron mean = -2.06', 'median = -1.84 std = 23.23'] : ['Gamma mean = -4.60', 'median = -3.28 std = 21.75']"}}
  }},
 {"width": 468, "height": 288, "data": {"name": "d5"},
  "title": {"text": "Spherical WFS Reconstruction : Conservative", "dx": -27, "font": "Liberation Serif"},
  "mark": {"type": "bar", "clip": true},
  "encoding": {
   "x": {"field": "a", "type": "quantitative", "scale": {"domain": [0, 749.5], "nice": false, "zero": false}, "axis": {"title": "Lateral Error (m)", "values": [0,200,400,600]}},
   "x2": {"field": "b"},
   "y": {"field": "n", "type": "quantitative", "stack": null, "scale": {"domain": [0, 32.55], "nice": false}, "axis": {"title": null, "values": [0,10,20,30]}},
   "y2": {"datum": 0},
   "color": {"field": "s", "type": "nominal", "scale": {"domain": ["P","I","G"], "range": ["#1f77b4","rgba(255,127,14,0.8)","rgba(44,160,44,0.5)"]},
    "legend": {"title": null, "orient": "top-right", "labelFont": "Liberation Serif", "labelFontSize": 16, "symbolType": "M-1,-0.36H1V0.36H-1Z", "labelExpr": "datum.label == 'P' ? ['Proton mean = 150.48', 'median = 88.44 std = 178.40'] : datum.label == 'I' ? ['Iron mean = 143.08', 'median = 99.47 std = 140.96'] : ['Gamma mean = 135.91', 'median = 83.18 std = 142.68']"}}
  }},
 {"width": 462, "height": 288, "data": {"name": "d6"},
  "title": {"text": "Spherical WFS Reconstruction : Conservative", "dx": 3, "font": "Liberation Serif"},
  "mark": {"type": "bar", "clip": true},
  "encoding": {
   "x": {"field": "a", "type": "quantitative", "scale": {"domain": [-100, 58.2], "nice": false, "zero": false}, "axis": {"title": "Longitudinal Error (%)", "values": [-100,-50,0,50]}},
   "x2": {"field": "b"},
   "y": {"field": "n", "type": "quantitative", "stack": null, "scale": {"domain": [0, 36.75], "nice": false}, "axis": {"title": null, "values": [0,10,20,30]}},
   "y2": {"datum": 0},
   "color": {"field": "s", "type": "nominal", "scale": {"domain": ["P","I","G"], "range": ["#1f77b4","rgba(255,127,14,0.8)","rgba(44,160,44,0.5)"]},
    "legend": {"title": null, "orient": "top-left", "labelFont": "Liberation Serif", "labelFontSize": 16, "symbolType": "M-1,-0.36H1V0.36H-1Z", "labelExpr": "datum.label == 'P' ? ['Proton mean = -1.49', 'median = -1.69 std = 17.88'] : datum.label == 'I' ? ['Iron mean = -2.49', 'median = -2.26 std = 20.74'] : ['Gamma mean = -4.35', 'median = -2.93 std = 19.36']"}}
  }}
]
}
